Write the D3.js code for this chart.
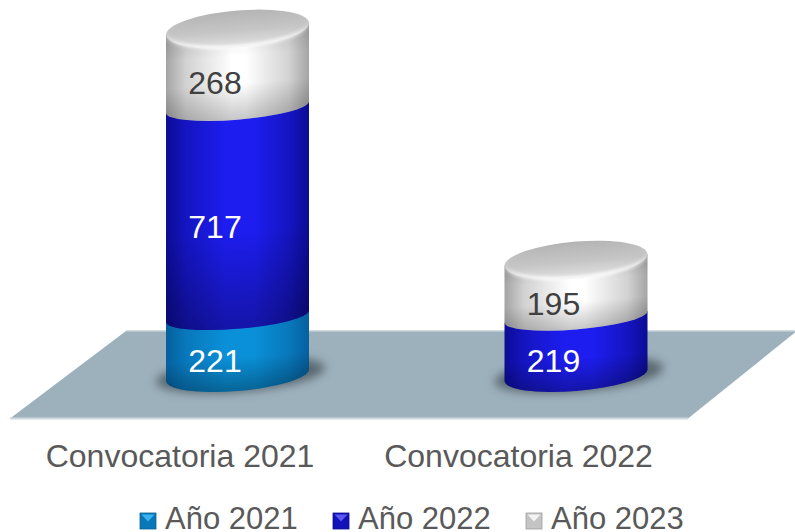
<!DOCTYPE html>
<html><head><meta charset="utf-8">
<script src="https://cdn.jsdelivr.net/npm/d3@7/dist/d3.min.js"></script>
<style>html,body{margin:0;padding:0;background:#fff}svg{display:block}text{font-family:"Liberation Sans",Arial,sans-serif}</style>
</head><body><div id="chart"></div>
<script>
const categories = ["Convocatoria 2021", "Convocatoria 2022"];
const seriesNames = ["Año 2021", "Año 2022", "Año 2023"];
const year2021 = [221, 0];
const year2022 = [717, 219];
const year2023 = [268, 195];
const seriesValues = [year2021, year2022, year2023];
const seriesTheme = [
  {edge:"#05609e", mid:"#0a90d8", label:"#fff", swatch:"#0a78b8", tip:"#3ab4ee"},
  {edge:"#0c0c94", mid:"#1d1df0", label:"#fff", swatch:"#1212b8", tip:"#5a5af0"},
  {edge:"#a4a4a4", mid:"#ffffff", label:"#404040", swatch:"#c4c4c4", tip:"#f4f4f4"}
];

const W = 795, H = 532;
const svg = d3.select("#chart").append("svg").attr("width", W).attr("height", H);
const defs = svg.append("defs");

const x = d3.scalePoint().domain(categories).range([237.5, 576]);
const y = d3.scaleLinear().domain([20, 1206]).range([375, 29]);
const R = 71.5;
const skew = "skewY(-4.6)";

seriesTheme.forEach((t, i) => {
  const g = defs.append("linearGradient").attr("id", "body" + i);
  const flat = i === 2 ? [0.46, 0.56] : [0.42, 0.62];
  [[0, t.edge], [0.14, d3.interpolateRgb(t.edge, t.mid)(0.5)], [flat[0], t.mid], [flat[1], t.mid], [0.86, d3.interpolateRgb(t.edge, t.mid)(0.5)], [1, t.edge]]
    .forEach(s => g.append("stop").attr("offset", s[0]).attr("stop-color", s[1]));
});
const shade = defs.append("linearGradient").attr("id", "shade").attr("x2", 0).attr("y2", 1);
[[0, 0.0], [0.55, 0.0], [1, 0.3]].forEach(s => shade.append("stop").attr("offset", s[0]).attr("stop-color", "#000").attr("stop-opacity", s[1]));
const shadeG = defs.append("linearGradient").attr("id", "shadeG").attr("x2", 0).attr("y2", 1);
[[0, 0.1], [0.3, 0.0], [0.6, 0.0], [1, 0.22]].forEach(s => shadeG.append("stop").attr("offset", s[0]).attr("stop-color", "#000").attr("stop-opacity", s[1]));
const capG = defs.append("linearGradient").attr("id", "cap").attr("x2", 0).attr("y2", 1);
[[0, "#b4b4b4"], [0.55, "#c6c6c6"], [1, "#e2e2e2"]].forEach(s => capG.append("stop").attr("offset", s[0]).attr("stop-color", s[1]));
const rimG = defs.append("linearGradient").attr("id", "rim").attr("x2", 0).attr("y2", 1);
[[0, "#fff", 0], [0.5, "#fff", 0.1], [1, "#fff", 0.95]].forEach(s => rimG.append("stop").attr("offset", s[0]).attr("stop-color", s[1]).attr("stop-opacity", s[2]));
defs.append("filter").attr("id", "blur").attr("x", "-30%").attr("y", "-60%").attr("width", "160%").attr("height", "220%")
  .append("feGaussianBlur").attr("stdDeviation", 5);
defs.append("filter").attr("id", "rimBlur").attr("x", "-10%").attr("y", "-30%").attr("width", "120%").attr("height", "160%")
  .append("feGaussianBlur").attr("stdDeviation", 1.6);

// floor
svg.append("path").attr("d", "M126,331H797L688,418.5H10Z").attr("fill", "#9db1bd");
svg.append("path").attr("d", "M126,331H797").attr("stroke", "#c4ced4").attr("stroke-width", 1.5).attr("fill", "none");
svg.append("path").attr("d", "M10,418.5H688").attr("stroke", "#d2d8dc").attr("stroke-width", 2).attr("fill", "none");

const segPath = (top, bot, rb) => `M${-R},${top}L${-R},${bot}A${R},${rb} 0 0 0 ${R},${bot}L${R},${top}Z`;

categories.forEach((c, ci) => {
  const g = svg.append("g").attr("transform", `translate(${x(c)},0)`);
  // contact shadow
  g.append("ellipse").attr("cx", 3).attr("cy", y.range()[0]).attr("rx", R + 13).attr("ry", 17)
    .attr("fill", "#3c4a50").attr("opacity", 0.7).attr("filter", "url(#blur)").attr("transform", skew);
  const body = g.append("g").attr("transform", skew);
  let acc = 0, topY = 0;
  const labels = [];
  seriesValues.forEach((vals, si) => {
    const v = vals[ci];
    if (!v) return;
    const bot = y(Math.max(acc, y.domain()[0]));
    const isFirst = acc === 0;
    acc += v;
    const top = y(acc);
    topY = top;
    const rb = isFirst ? 16 : 12.5;
    const d = segPath(top, bot, rb);
    body.append("path").attr("d", d).attr("fill", `url(#body${si})`);
    body.append("path").attr("d", d).attr("fill", si === 2 ? "url(#shadeG)" : "url(#shade)");
    labels.push({v, si, yMid: (top + bot) / 2});
  });
  const capRy = 18.5;
  body.append("ellipse").attr("cx", 0).attr("cy", topY).attr("rx", R).attr("ry", capRy).attr("fill", "url(#cap)");
  body.append("ellipse").attr("cx", 0).attr("cy", topY).attr("rx", R - 1).attr("ry", capRy - 1)
    .attr("fill", "none").attr("stroke", "url(#rim)").attr("stroke-width", 3.5).attr("filter", "url(#rimBlur)");
  labels.forEach(l => {
    g.append("text").attr("x", -22.5).attr("y", l.yMid + 26).attr("text-anchor", "middle")
      .attr("font-size", 32).attr("fill", seriesTheme[l.si].label).text(l.v);
  });
  svg.append("text").attr("x", x(c) - 57.5).attr("y", 467).attr("text-anchor", "middle")
    .attr("font-size", 32).attr("fill", "#595959").text(c);
});

// legend
const legendX = d3.scaleOrdinal().domain(seriesNames).range([140, 333, 526]);
const legendText = d3.scaleOrdinal().domain(seriesNames).range([165, 358, 551]);
seriesNames.forEach((n, i) => {
  const t = seriesTheme[i], lx = legendX(n);
  const g = svg.append("g").attr("transform", `translate(${lx},513)`);
  g.append("rect").attr("width", 16).attr("height", 16).attr("fill", t.swatch).attr("stroke", d3.color(t.swatch).darker(0.6)).attr("stroke-width", 0.8);
  g.append("path").attr("d", "M1.5,1.5H14.5L8,8.5Z").attr("fill", t.tip);
  svg.append("text").attr("x", legendText(n)).attr("y", 529).attr("font-size", 31).attr("fill", "#595959").text(n);
});
</script></body></html>
